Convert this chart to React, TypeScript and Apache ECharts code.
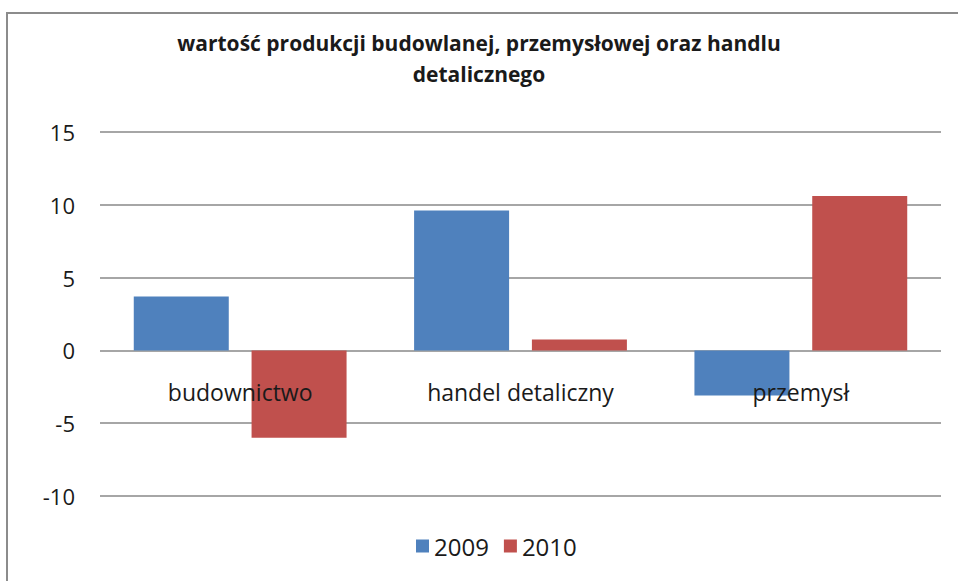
import React, { useEffect, useRef } from "react";
import * as echarts from "echarts";

const categories = ["budownictwo", "handel detaliczny", "przemysł"];
const values2009 = [3.7, 9.6, -3.1];
const values2010 = [-6.0, 0.75, 10.6];
const seriesNames = ["2009", "2010"];
const titleText = "wartość produkcji budowlanej, przemysłowej oraz handlu\ndetalicznego";

export default function App() {
  const ref = useRef<HTMLDivElement>(null);
  useEffect(() => {
    document.body.style.margin = "0";
    const chart = echarts.init(ref.current!, null, { renderer: "svg" });
    const font = "Open Sans";
    chart.setOption({
      animation: false,
      backgroundColor: "#ffffff",
      title: {
        text: titleText,
        left: "center",
        top: 22,
        textStyle: {
          fontFamily: font,
          fontSize: 21,
          fontWeight: "bold",
          color: "#1a1a1a",
          lineHeight: 31,
        },
      },
      graphic: [
        {
          type: "rect",
          shape: { x: 7, y: 13, width: 1000, height: 600 },
          style: { fill: "none", stroke: "#8c8c8c", lineWidth: 2 },
          silent: true,
        },
      ],
      legend: {
        data: seriesNames,
        bottom: 18,
        left: 411,
        icon: "rect",
        itemWidth: 13,
        itemHeight: 13,
        itemGap: 15,
        textStyle: { fontFamily: font, fontSize: 24, color: "#1a1a1a" },
      },
      grid: { left: 100, right: 17, top: 132, bottom: 85, containLabel: false },
      xAxis: {
        type: "category",
        data: categories,
        z: 5,
        offset: -145,
        axisLine: { show: false, onZero: false },
        axisTick: { show: false },
        axisLabel: {
          margin: 29,
          fontFamily: font,
          fontSize: 23,
          color: "#1a1a1a",
        },
      },
      yAxis: {
        type: "value",
        min: -10,
        max: 15,
        interval: 5,
        axisLine: { show: false },
        axisTick: { show: false },
        axisLabel: { margin: 25, fontFamily: font, fontSize: 22, color: "#1a1a1a" },
        splitLine: { lineStyle: { color: "#a6a6a6", width: 2 } },
      },
      series: [
        {
          name: seriesNames[0],
          type: "bar",
          data: values2009,
          barWidth: 95,
          barGap: "24%",
          itemStyle: { color: "#4F81BD" },
        },
        {
          name: seriesNames[1],
          type: "bar",
          data: values2010,
          barWidth: 95,
          itemStyle: { color: "#C0504D" },
        },
      ],
    });
    return () => chart.dispose();
  }, []);
  return <div ref={ref} style={{ width: 958, height: 581 }} />;
}
